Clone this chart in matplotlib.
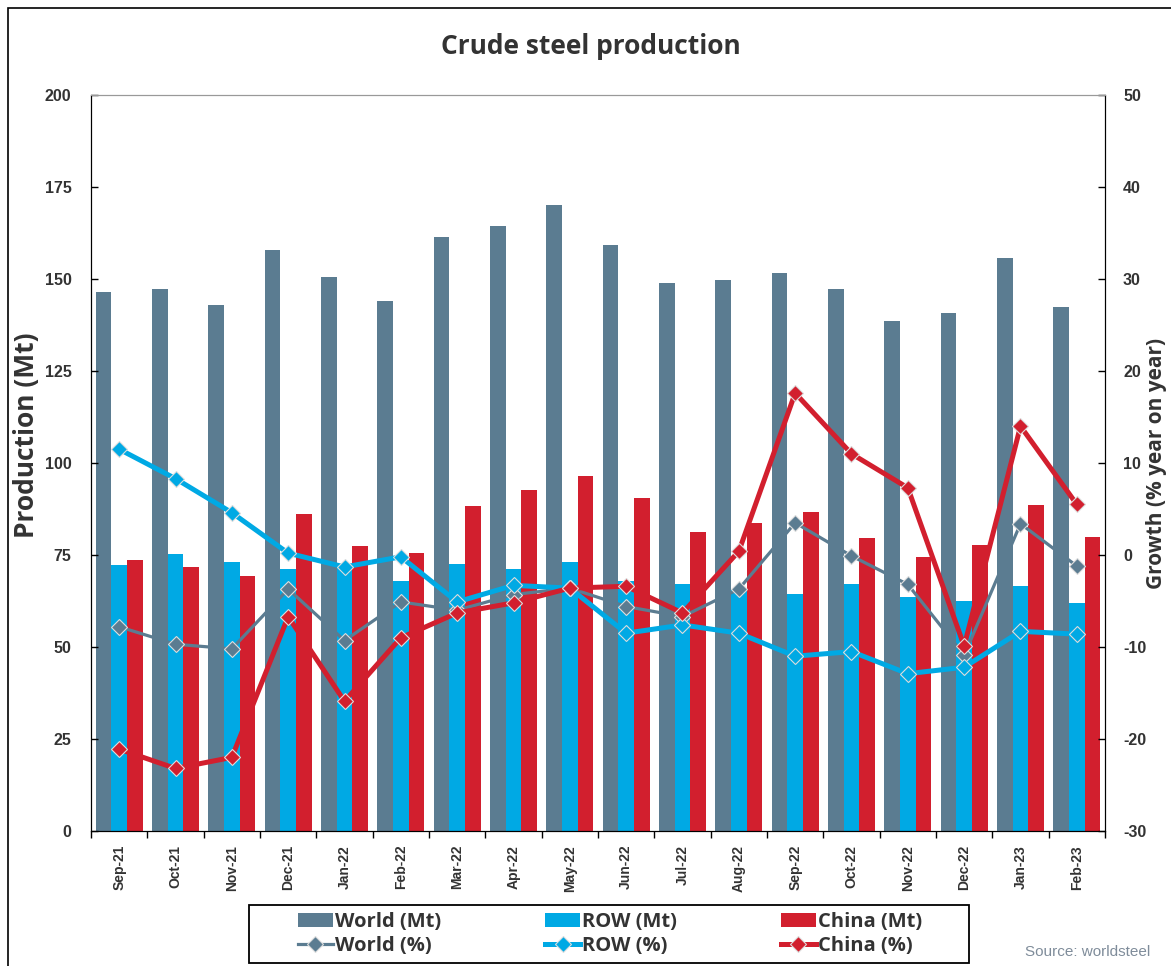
import matplotlib
matplotlib.use("Agg")
import matplotlib.pyplot as plt
import numpy as np
from matplotlib.patches import Rectangle


MONTHS = [
    "Sep-21", "Oct-21", "Nov-21", "Dec-21", "Jan-22", "Feb-22",
    "Mar-22", "Apr-22", "May-22", "Jun-22", "Jul-22", "Aug-22",
    "Sep-22", "Oct-22", "Nov-22", "Dec-22", "Jan-23", "Feb-23",
]

# Production, Mt
WORLD_MT = [146.5, 147.3, 143.0, 157.9, 150.5, 144.0, 161.4, 164.4, 170.0,
            159.2, 148.9, 149.7, 151.6, 147.3, 138.6, 140.8, 155.7, 142.4]
ROW_MT = [72.3, 75.3, 73.1, 71.2, 72.4, 67.9, 72.6, 71.2, 73.1,
          68.0, 67.1, 65.5, 64.4, 67.1, 63.6, 62.5, 66.6, 62.0]
CHINA_MT = [73.6, 71.8, 69.4, 86.1, 77.4, 75.6, 88.3, 92.7, 96.5,
            90.5, 81.3, 83.7, 86.7, 79.6, 74.5, 77.7, 88.6, 79.9]

# Growth, % year on year
WORLD_PCT = [-7.8, -9.7, -10.2, -3.7, -9.3, -5.1, -6.0, -4.3, -3.6,
             -5.6, -6.7, -3.7, 3.5, -0.1, -3.2, -10.9, 3.4, -1.2]
ROW_PCT = [11.5, 8.3, 4.6, 0.2, -1.3, -0.2, -5.1, -3.3, -3.6,
           -8.5, -7.6, -8.5, -11.0, -10.5, -12.9, -12.2, -8.3, -8.6]
CHINA_PCT = [-21.1, -23.2, -22.0, -6.7, -15.9, -9.0, -6.3, -5.2, -3.6,
             -3.4, -6.3, 0.4, 17.6, 11.0, 7.3, -9.9, 14.0, 5.5]

WORLD_COLOR = "#5b7c91"
ROW_COLOR = "#00a9e4"
CHINA_COLOR = "#d21f2e"
TEXT_COLOR = "#333333"

W, H = 1171, 966


def style_ticklabels(labels) -> None:
    for lbl in labels:
        lbl.set_fontsize(11.5)
        lbl.set_fontweight("bold")
        lbl.set_color(TEXT_COLOR)
        lbl.set_family("Liberation Sans")


def main() -> None:
    plt.rcParams["axes.unicode_minus"] = False
    fig = plt.figure(figsize=(W / 100, H / 100), dpi=100)
    ax = fig.add_axes([91 / W, 1 - 831 / H, (1105 - 91) / W, (831 - 95) / H])

    x = np.arange(len(MONTHS))
    width = 0.28
    ax.bar(x - width, WORLD_MT, width, color=WORLD_COLOR, label="World (Mt)")
    ax.bar(x, ROW_MT, width, color=ROW_COLOR, label="ROW (Mt)")
    ax.bar(x + width, CHINA_MT, width, color=CHINA_COLOR, label="China (Mt)")

    ax.set_xlim(-0.5, len(MONTHS) - 0.5)
    ax.set_ylim(0, 200)
    ax.set_yticks(range(0, 201, 25))
    ax.set_xticks(x)
    ax.set_xticklabels(MONTHS, rotation=90, fontsize=10, fontweight="bold",
                       color=TEXT_COLOR, family="Liberation Sans")
    ax.set_xticks(np.arange(-0.5, len(MONTHS), 1), minor=True)
    ax.tick_params(axis="x", which="major", length=0, pad=10)
    ax.tick_params(axis="x", which="minor", length=5, direction="out", width=1)
    ax.tick_params(axis="y", direction="in", length=5, width=1, pad=14)
    style_ticklabels(ax.get_yticklabels())
    ax.set_ylabel("Production (Mt)", fontsize=19, fontweight="bold",
                  family="Open Sans", color=TEXT_COLOR)
    ax.yaxis.set_label_coords((40 - 91) / 1014, (831 - 435) / 736)
    ax.spines["top"].set_color("#999999")

    ax2 = ax.twinx()
    line_kw = dict(marker="D", markersize=8, markeredgecolor="#dddddd",
                   markeredgewidth=0.8)
    ax2.plot(x, WORLD_PCT, color=WORLD_COLOR, linewidth=2.3,
             label="World (%)", **line_kw)
    ax2.plot(x, ROW_PCT, color=ROW_COLOR, linewidth=3.6,
             label="ROW (%)", **line_kw)
    ax2.plot(x, CHINA_PCT, color=CHINA_COLOR, linewidth=3.6,
             label="China (%)", **line_kw)
    ax2.set_ylim(-30, 50)
    ax2.set_yticks(range(-30, 51, 10))
    ax2.tick_params(axis="y", direction="in", length=5, width=1, pad=13)
    style_ticklabels(ax2.get_yticklabels())
    ax2.set_ylabel("Growth (% year on year)", fontsize=15, fontweight="bold",
                   family="Open Sans", color=TEXT_COLOR)
    ax2.yaxis.set_label_coords((1146 - 91) / 1014, 0.5)
    ax2.spines["top"].set_color("#999999")

    fig.text(591 / W, 1 - 47 / H, "Crude steel production", ha="center",
             va="center", fontsize=19, fontweight="bold", family="Open Sans",
             color=TEXT_COLOR)

    h1, l1 = ax.get_legend_handles_labels()
    h2, l2 = ax2.get_legend_handles_labels()
    handles = [h1[0], h2[0], h1[1], h2[1], h1[2], h2[2]]
    labels = [l1[0], l2[0], l1[1], l2[1], l1[2], l2[2]]
    leg = fig.legend(handles, labels, ncol=3, loc="center",
                     bbox_to_anchor=(610 / W, 1 - 934 / H), frameon=False,
                     handlelength=1.7, handletextpad=0.1, columnspacing=5.2,
                     labelspacing=0.2,
                     prop={"family": "Open Sans", "weight": "bold", "size": 14.5})
    for text in leg.get_texts():
        text.set_color(TEXT_COLOR)

    # legend box
    fig.add_artist(Rectangle((249 / W, 1 - 963 / H), (969 - 249) / W,
                             (963 - 905) / H, transform=fig.transFigure,
                             fill=False, edgecolor="black", linewidth=1.3))

    fig.text(1150 / W, 1 - 952 / H, "Source: worldsteel", ha="right",
             va="center", fontsize=11, color="#7f8c9a",
             family="Liberation Sans")

    # outer frame (left and top edges visible)
    fig.add_artist(Rectangle((8 / W, -0.05), 1.2, 1.05 - 8 / H,
                             transform=fig.transFigure, fill=False,
                             edgecolor="black", linewidth=1.2))

    fig.savefig("out.png", dpi=100)
    plt.close(fig)


if __name__ == "__main__":
    main()
